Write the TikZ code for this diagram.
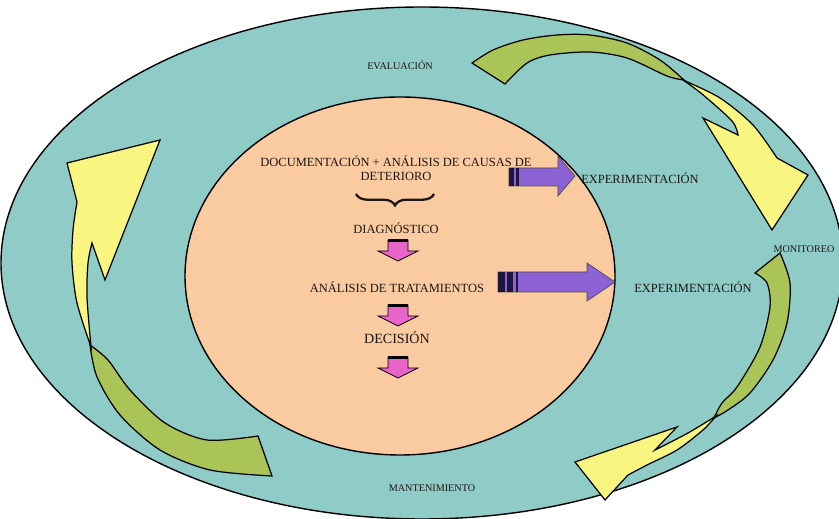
\documentclass[tikz,border=0pt]{standalone}
\usepackage{fontspec}
\setmainfont{Liberation Serif}
\usetikzlibrary{decorations.pathreplacing}
\definecolor{tealbg}{RGB}{143,204,199}
\definecolor{peach}{RGB}{250,203,160}
\definecolor{yellowc}{RGB}{248,246,128}
\definecolor{greenc}{RGB}{170,196,88}
\definecolor{purp}{RGB}{140,98,212}
\definecolor{pinkc}{RGB}{232,100,200}
\definecolor{barc}{RGB}{30,22,60}
\definecolor{textc}{RGB}{30,22,22}
\begin{document}
\begin{tikzpicture}[x=0.02cm,y=-0.02cm,
  txt/.style={text=textc, inner sep=0pt, font=\fontsize{7.1}{7.9}\selectfont},
  smalltxt/.style={text=textc, inner sep=0pt, font=\fontsize{5.8}{7}\selectfont},
  greenarr/.style={fill=greenc, draw=black, line width=0.7pt, line join=miter},
  yellowarr/.style={fill=yellowc, draw=black, line width=0.7pt, line join=miter},
  purparr/.style={fill=purp, draw=black!70, line width=0.4pt},
  pinkarr/.style={fill=pinkc, draw=black, line width=0.4pt}]
\useasboundingbox (0,0) rectangle (839,519);
\fill[white] (0,0) rectangle (839,519);
\begin{scope}
  \clip (0,0) rectangle (839,519);
  \draw[fill=tealbg, line width=0.8pt] (422,263) ellipse [x radius=421, y radius=256];
\end{scope}
\draw[fill=peach, line width=0.8pt] (400,276) ellipse [x radius=215, y radius=179];

% top curved arrow
\draw[greenarr] plot[smooth] coordinates {(472,63) (493,50) (523,40) (557,35) (590,35) (627,43) (660,60) (684,80)}
  -- plot[smooth] coordinates {(684,80) (667,76) (627,58) (590,52) (550,55) (527,63) (505,84)} -- cycle;
\draw[yellowarr] plot[smooth] coordinates {(683,80) (720,98) (753,125) (777,158)} -- (808,175) -- (772,230) -- (703,118) -- (738,135)
  -- plot[smooth] coordinates {(738,135) (732,121) (702,94) (683,80)} -- cycle;

% right curved arrow
\draw[greenarr] (755,273) -- (780,253) -- plot[smooth] coordinates {(780,253) (790,283) (787,323) (773,360) (750,393) (728,410) (714,418)}
  -- plot[smooth] coordinates {(714,418) (722,403) (737,387) (760,347) (770,307) (767,283) (755,273)} -- cycle;
\draw[yellowarr] plot[smooth] coordinates {(716,416) (688,433) (655,450)} -- (677,427) -- (575,462) -- (605,500)
  -- plot[smooth] coordinates {(628,475) (647,465) (677,450) (703,430) (716,416)} -- cycle;

% left curved arrow
\draw[greenarr] plot[smooth] coordinates {(90,345) (97,377) (120,415) (160,450) (210,470) (272,476)} -- (258,436)
  -- plot[smooth] coordinates {(258,436) (207,440) (165,423) (130,390) (108,360) (90,345)} -- cycle;
\draw[yellowarr] plot[smooth] coordinates {(91,347) (77,303) (72,263) (73,230) (77,202)} -- (67,163) -- (160,140) -- (105,280) -- (92,243)
  -- plot[smooth] coordinates {(92,243) (88,263) (87,297) (91,347)} -- cycle;

% texts
\node[smalltxt] (eval) at (400,65) {EVALUACIÓN};
\node[smalltxt] (mon) at (804,249) {MONITOREO};
\node[smalltxt] (mant) at (432,488) {MANTENIMIENTO};
\node[txt, align=center] (doc) at (396,168) {DOCUMENTACIÓN + ANÁLISIS DE CAUSAS DE\\DETERIORO};
\node[txt] (diag) at (396,228) {DIAGNÓSTICO};
\node[txt] (anal) at (397,287) {ANÁLISIS DE TRATAMIENTOS};
\node[txt, font=\fontsize{8}{9}\selectfont] (dec) at (397,338) {DECISIÓN};
\node[txt] (exp1) at (640,178) {EXPERIMENTACIÓN};
\node[txt] (exp2) at (693,287) {EXPERIMENTACIÓN};

% brace
\draw[decorate, decoration={brace, mirror, amplitude=6.5pt}, line width=1.3pt, textc] (356,194) -- (434,194);

% pink arrows
\foreach \yt in {240, 305, 357}{
  \draw[pinkarr] (388,\yt) -- (408,\yt) -- (408,\yt+11) -- (418,\yt+11) -- (398,\yt+21) -- (378,\yt+11) -- (388,\yt+11) -- cycle;
  \draw[line width=1.6pt] (388,\yt+0.8) -- (408,\yt+0.8);
}

% purple arrows
\draw[purparr] (509,168) -- (558,168) -- (558,156) -- (575,176) -- (558,196) -- (558,186) -- (509,186) -- cycle;
\fill[barc] (509,168) rectangle (514,186);
\fill[barc] (516,168) rectangle (518.5,186);
\draw[purparr] (498,272) -- (587,272) -- (587,263) -- (615,282) -- (587,301) -- (587,292) -- (498,292) -- cycle;
\fill[barc] (498,272) rectangle (505,292);
\fill[barc] (507,272) rectangle (513,292);
\fill[barc] (516,272) rectangle (517.5,292);
\end{tikzpicture}
\end{document}
